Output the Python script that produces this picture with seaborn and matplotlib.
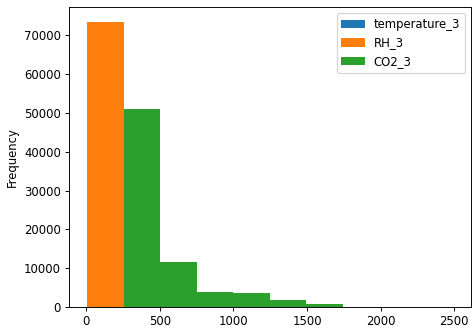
import numpy as np
import pandas as pd
import matplotlib
matplotlib.use("Agg")
import matplotlib.pyplot as plt
import seaborn as sns

# Histogram counts per column (10 equal-width bins over the combined range)
series_names = ["temperature_3", "RH_3", "CO2_3"]
temperature_counts = [73560, 0, 0, 0, 0, 0, 0, 0, 0, 0]
rh_counts = [73560, 0, 0, 0, 0, 0, 0, 0, 0, 0]
co2_counts = [0, 50900, 11650, 3930, 3600, 1880, 850, 120, 60, 30]
range_low, range_high = 7, 2487
n_bins = 10

colors = ["#1f77b4", "#ff7f0e", "#2ca02c"]

edges = np.linspace(range_low, range_high, n_bins + 1)
centers = (edges[:-1] + edges[1:]) / 2

frames = []
for name, counts in zip(series_names, [temperature_counts, rh_counts, co2_counts]):
    frames.append(pd.DataFrame({"value": centers, "count": counts, "series": name}))
df = pd.concat(frames, ignore_index=True)

dpi = 83.5
fig, ax = plt.subplots(figsize=(473 / dpi, 331 / dpi), dpi=dpi)
fig.subplots_adjust(left=0.146, right=0.995, top=0.978, bottom=0.0725)

for name, color in zip(series_names, colors):
    sub = df[df["series"] == name]
    sns.histplot(data=sub, x="value", weights="count", bins=n_bins,
                 binrange=(range_low, range_high),
                 color=color, alpha=1.0, linewidth=0, ax=ax, label=name)

ax.set_xlabel("")
ax.set_ylabel("Frequency")
ax.set_xticks([0, 500, 1000, 1500, 2000, 2500])
ax.legend(loc="upper right")

fig.savefig("out.png", dpi=dpi)
